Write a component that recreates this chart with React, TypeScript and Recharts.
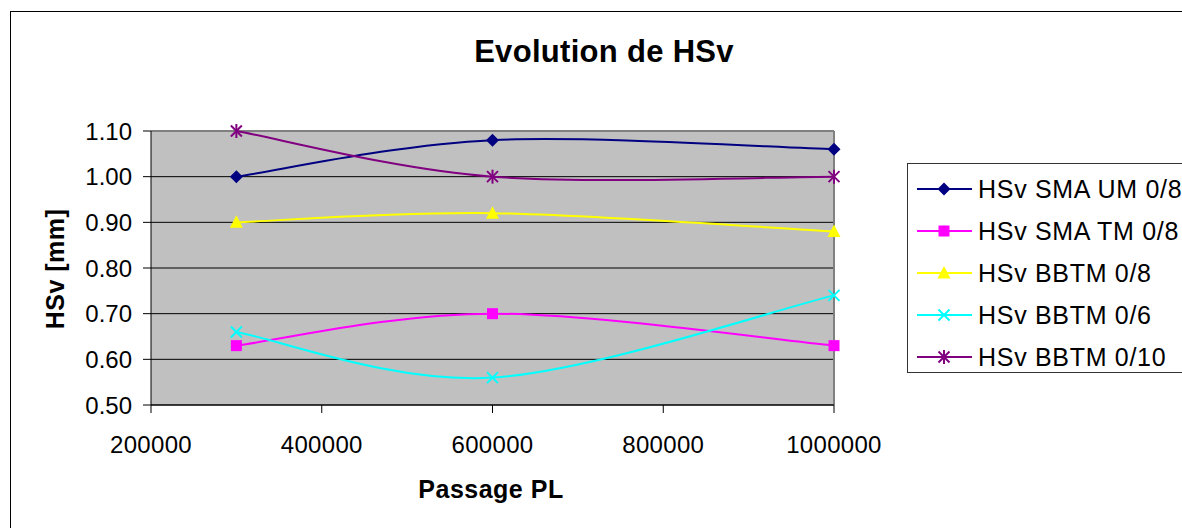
import React from "react";
import {
  LineChart,
  Line,
  XAxis,
  YAxis,
  CartesianGrid,
  ReferenceLine,
  Legend,
} from "recharts";

const FONT = '"Liberation Sans", Arial, sans-serif';

// passages PL (x) and HSv values (mm) per mix
const PASSAGES = [300000, 600000, 1000000];
const SMA_UM_08 = [1.0, 1.08, 1.06];
const SMA_TM_08 = [0.63, 0.7, 0.63];
const BBTM_08 = [0.9, 0.92, 0.88];
const BBTM_06 = [0.66, 0.56, 0.74];
const BBTM_010 = [1.1, 1.0, 1.0];

const X_TICKS = [200000, 400000, 600000, 800000, 1000000];
const Y_TICKS = [0.5, 0.6, 0.7, 0.8, 0.9, 1.0, 1.1];

type Shape = "diamond" | "square" | "triangle" | "cross" | "star";

const SERIES: { key: string; name: string; color: string; shape: Shape; values: number[] }[] = [
  { key: "smaUm", name: "HSv SMA UM 0/8", color: "#000080", shape: "diamond", values: SMA_UM_08 },
  { key: "smaTm", name: "HSv SMA TM 0/8", color: "#FF00FF", shape: "square", values: SMA_TM_08 },
  { key: "bbtm8", name: "HSv BBTM 0/8", color: "#FFFF00", shape: "triangle", values: BBTM_08 },
  { key: "bbtm6", name: "HSv BBTM 0/6", color: "#00FFFF", shape: "cross", values: BBTM_06 },
  { key: "bbtm10", name: "HSv BBTM 0/10", color: "#800080", shape: "star", values: BBTM_010 },
];

const data = PASSAGES.map((p, i) => {
  const row: Record<string, number> = { passage: p };
  SERIES.forEach((s) => (row[s.key] = s.values[i]));
  return row;
});

// Excel-like smoothed line (Catmull-Rom as cubic bezier)
function excelSmooth(context: any) {
  let pts: [number, number][] = [];
  return {
    areaStart() {},
    areaEnd() {},
    lineStart() {
      pts = [];
    },
    point(x: number, y: number) {
      pts.push([+x, +y]);
    },
    lineEnd() {
      const n = pts.length;
      if (!n) return;
      context.moveTo(pts[0][0], pts[0][1]);
      for (let i = 0; i < n - 1; i++) {
        const p0 = pts[Math.max(i - 1, 0)];
        const p1 = pts[i];
        const p2 = pts[i + 1];
        const p3 = pts[Math.min(i + 2, n - 1)];
        context.bezierCurveTo(
          p1[0] + (p2[0] - p0[0]) / 6,
          p1[1] + (p2[1] - p0[1]) / 6,
          p2[0] - (p3[0] - p1[0]) / 6,
          p2[1] - (p3[1] - p1[1]) / 6,
          p2[0],
          p2[1]
        );
      }
    },
  };
}

function Marker({ shape, cx, cy, color }: { shape: Shape; cx: number; cy: number; color: string }) {
  switch (shape) {
    case "diamond":
      return <polygon points={`${cx},${cy - 6.5} ${cx + 6.5},${cy} ${cx},${cy + 6.5} ${cx - 6.5},${cy}`} fill={color} />;
    case "square":
      return <rect x={cx - 5.5} y={cy - 5.5} width={11} height={11} fill={color} />;
    case "triangle":
      return <polygon points={`${cx},${cy - 7} ${cx + 6.5},${cy + 5.5} ${cx - 6.5},${cy + 5.5}`} fill={color} />;
    case "cross":
      return (
        <g stroke={color} strokeWidth={2}>
          <line x1={cx - 5.5} y1={cy - 5.5} x2={cx + 5.5} y2={cy + 5.5} />
          <line x1={cx - 5.5} y1={cy + 5.5} x2={cx + 5.5} y2={cy - 5.5} />
        </g>
      );
    default:
      return (
        <g stroke={color} strokeWidth={2}>
          <line x1={cx - 5.5} y1={cy - 5.5} x2={cx + 5.5} y2={cy + 5.5} />
          <line x1={cx - 5.5} y1={cy + 5.5} x2={cx + 5.5} y2={cy - 5.5} />
          <line x1={cx} y1={cy - 7} x2={cx} y2={cy + 7} />
        </g>
      );
  }
}

function LegendBox() {
  return (
    <div style={{ border: "1px solid #333", background: "#fff", height: 210, boxSizing: "border-box", paddingTop: 4 }}>
      {SERIES.map((s) => (
        <div key={s.key} style={{ display: "flex", alignItems: "center", height: 42 }}>
          <svg width={70} height={20} style={{ flexShrink: 0 }}>
            <line x1={9} y1={10} x2={64} y2={10} stroke={s.color} strokeWidth={2} />
            <Marker shape={s.shape} cx={36} cy={10} color={s.color} />
          </svg>
          <span
            style={{ fontFamily: FONT, fontSize: 25, letterSpacing: 0.7, color: "#000", whiteSpace: "nowrap" }}
          >
            {s.name}
          </span>
        </div>
      ))}
    </div>
  );
}

export default function App() {
  return (
    <div style={{ position: "fixed", left: 0, top: 0, width: 1182, height: 528, overflow: "hidden", background: "#fff" }}>
      <svg width={1182} height={528} style={{ position: "absolute", left: 0, top: 0 }}>
        <rect x={10.5} y={11.5} width={1300} height={700} fill="#fff" stroke="#000" strokeWidth={1} />
        <text x={604} y={62} textAnchor="middle" fontFamily={FONT} fontWeight="bold" fontSize={31} letterSpacing={0.3} fill="#000">
          Evolution de HSv
        </text>
        <text x={491} y={498} textAnchor="middle" fontFamily={FONT} fontWeight="bold" fontSize={25} letterSpacing={0.5} fill="#000">
          Passage PL
        </text>
        <text
          x={0}
          y={0}
          transform="translate(64,269) rotate(-90)"
          textAnchor="middle"
          fontFamily={FONT}
          fontWeight="bold"
          fontSize={25}
          letterSpacing={0.5}
          fill="#000"
        >
          HSv [mm]
        </text>
      </svg>
      <div style={{ position: "absolute", left: 0, top: 0 }}>
        <LineChart
          width={1182}
          height={528}
          data={data}
          margin={{ top: 131, right: 348, bottom: 93, left: 91 }}
        >
          <CartesianGrid horizontal vertical={false} stroke="#000" strokeWidth={1} fill="#C0C0C0" fillOpacity={1} />
          <XAxis
            dataKey="passage"
            type="number"
            domain={[200000, 1000000]}
            ticks={X_TICKS}
            height={30}
            axisLine={{ stroke: "#000", strokeWidth: 1 }}
            tickLine={{ stroke: "#000" }}
            tickSize={8}
            tickMargin={23}
            tick={{ fontFamily: FONT, fontSize: 24, fill: "#000", letterSpacing: 0.3 }}
            interval={0}
          />
          <YAxis
            type="number"
            domain={[0.5, 1.1]}
            ticks={Y_TICKS}
            width={60}
            axisLine={{ stroke: "#000", strokeWidth: 1 }}
            tickLine={{ stroke: "#000" }}
            tickSize={8}
            tickMargin={11}
            tick={{ fontFamily: FONT, fontSize: 24, fill: "#000" }}
            tickFormatter={(v: number) => v.toFixed(2)}
            interval={0}
          />
          <ReferenceLine y={1.1} stroke="#808080" strokeWidth={2} />
          <ReferenceLine x={1000000} stroke="#808080" strokeWidth={2} />
          <Legend
            layout="horizontal"
            verticalAlign="middle"
            align="center"
            wrapperStyle={{ left: 907, top: 163, width: 300 }}
            content={() => <LegendBox />}
          />
          {SERIES.map((s) => (
            <Line
              key={s.key}
              dataKey={s.key}
              name={s.name}
              type={excelSmooth as any}
              stroke={s.color}
              strokeWidth={2}
              isAnimationActive={false}
              dot={(p: any) => <Marker key={`${s.key}-${p.index}`} shape={s.shape} cx={p.cx} cy={p.cy} color={s.color} />}
              activeDot={false}
            />
          ))}
        </LineChart>
      </div>
    </div>
  );
}
